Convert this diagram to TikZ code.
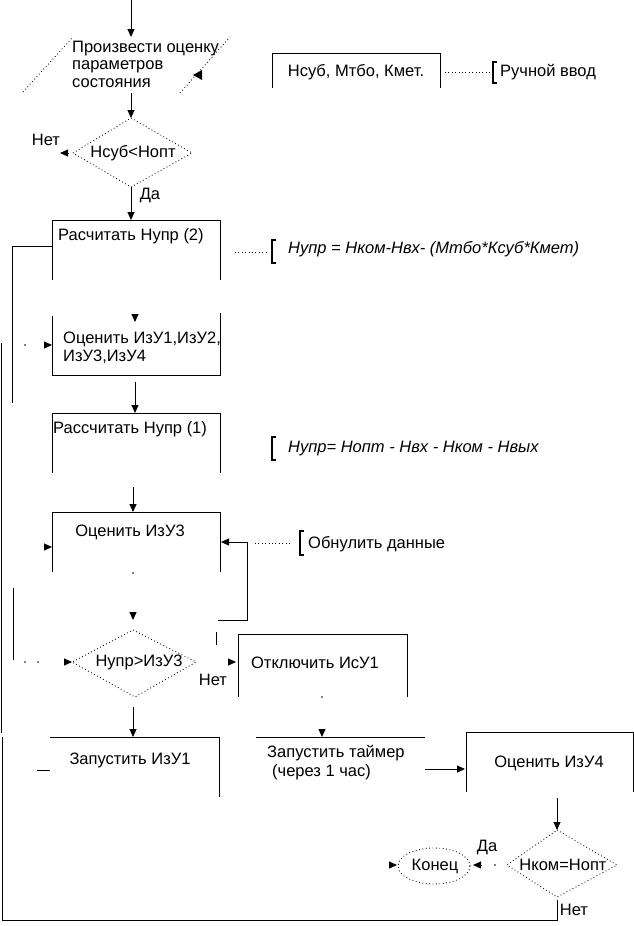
\documentclass[tikz,border=0pt]{standalone}
\usepackage{fontspec}
\setmainfont{Liberation Sans}
\usetikzlibrary{arrows.meta,shapes.geometric}
\begin{document}
\begin{tikzpicture}[x=1pt,y=-1pt,
  ln/.style={line width=1pt},
  dt/.style={line width=0.9pt,dash pattern=on 0.8pt off 2.6pt},
  arr/.style={line width=1pt,-{Triangle[length=8pt,width=7pt]}},
  brk/.style={line width=2.4pt},
  txt/.style={font=\fontsize{16.5}{17.5}\selectfont,inner sep=0pt},
  itx/.style={font=\fontsize{16.5}{17.5}\selectfont\itshape,inner sep=0pt,anchor=west},
  dotmark/.style={fill,circle,inner sep=0pt,minimum size=1.4pt}
]
\useasboundingbox (0,0) rectangle (634,926);

% ---------- top: input parallelogram ----------
\coordinate (s0) at (131,0);
\coordinate (p0) at (131,37);
\draw[arr] (s0) -- (p0);
\draw[dt] (23,92) -- (72,38);
\draw[dt] (180,93) -- (230,37);
\fill (193,75) -- (202,70) -- (202,80) -- cycle;
\node[txt,anchor=west,align=left] (par) at (72,64)
  {Произвести оценку\\параметров\\состояния};
\coordinate (p1) at (131,93);
\coordinate (d1t) at (131,118);
\draw[arr] (p1) -- (d1t);

% manual input box
\draw[ln] (272,88) -- (272,53) -- (440,53) -- (440,88);
\node[txt] (inp) at (356,72) {Нсуб, Мтбо, Кмет.};
\coordinate (i1) at (445,72);
\coordinate (i2) at (490,72);
\draw[dt] (i1) -- (i2);
\draw[brk] (497,62) -- (493,62) -- (493,83) -- (497,83);
\node[txt,anchor=west] (man) at (500,72) {Ручной ввод};

% ---------- decision 1 ----------
\draw[dt] (131,118) -- (192,153) -- (131,187) -- (73,153) -- cycle;
\node[txt] (d1) at (133,153) {Нсуб<Нопт};
\node[txt] (no1) at (46,140) {Нет};
\draw[arr] (68,153) -- (60,153);
\node[txt] (yes1) at (150,195) {Да};
\coordinate (d1b) at (131,187);
\coordinate (r2t) at (131,220);
\draw[arr] (d1b) -- (r2t);

% ---------- box: Расчитать Нупр (2) ----------
\draw[ln] (52,280) -- (52,220) -- (220,220) -- (220,280);
\node[txt,anchor=west] (r2) at (58,236) {Расчитать Нупр (2)};
\coordinate (r2l) at (52,246);
\draw[ln] (r2l) -- (12,246) -- (12,403);
\draw[dt] (235,252) -- (268,252);
\draw[brk] (276,240) -- (272,240) -- (272,263) -- (276,263);
\node[itx] (f1) at (288,249) {Нупр = Нком-Нвх- (Мтбо*Ксуб*Кмет)};

% ---------- box: Оценить ИзУ1... ----------
\draw[ln] (52,316) -- (52,375) -- (220,375) -- (220,313);
\draw[arr] (135,314) -- (135,322);
\fill (25,345) circle (0.8);
\draw[arr] (44,345) -- (52,345);
\node[txt,anchor=west,align=left] (e1) at (63,348) {Оценить ИзУ1,ИзУ2,\\ИзУ3,ИзУ4};
\coordinate (e1b) at (135,382);
\coordinate (r1t) at (135,413);
\draw[arr] (e1b) -- (r1t);

% ---------- box: Рассчитать Нупр (1) ----------
\draw[ln] (52,473) -- (52,413) -- (220,413) -- (220,473);
\node[txt,anchor=west] (r1) at (53,429) {Рассчитать Нупр (1)};
\draw[brk] (276,437) -- (272,437) -- (272,460) -- (276,460);
\node[itx] (f2) at (288,449) {Нупр= Нопт - Нвх - Нком - Нвых};

% ---------- box: Оценить ИзУ3 ----------
\coordinate (e3a) at (133,487);
\coordinate (e3t) at (133,512);
\draw[arr] (e3a) -- (e3t);
\draw[ln] (52,572) -- (52,512) -- (220,512) -- (220,572);
\node[txt] (e3) at (130,532) {Оценить ИзУ3};
\draw[arr] (44,547) -- (52,547);
\coordinate (e3r) at (221,542);
\draw[ln] (218,620) -- (247,620) -- (247,542);
\draw[arr] (247,542) -- (e3r);
\draw[dt] (255,543) -- (290,543);
\draw[brk] (304,531) -- (300,531) -- (300,555) -- (304,555);
\node[txt,anchor=west] (zero) at (308,544) {Обнулить данные};
\fill (133,573) circle (0.8);

% ---------- decision 2 ----------
\draw[ln] (13,588) -- (13,660);
\fill (25,662) circle (0.8);
\fill (38,662) circle (0.8);
\draw[arr] (64,662) -- (72,662);
\draw[arr] (133,612) -- (133,620);
\draw[dt] (133,630) -- (196,662) -- (135,697) -- (72,662) -- cycle;
\node[txt] (d2) at (139,662) {Нупр>ИзУ3};
\draw[ln] (216,632) -- (216,645);
\draw[arr] (228,662) -- (236,662);
\node[txt] (no2) at (213,680) {Нет};

% box: Отключить ИсУ1
\draw[ln] (238,697) -- (238,634) -- (407,634) -- (407,697);
\node[txt] (off) at (315,663) {Отключить ИсУ1};
\fill (322,697) circle (0.8);

% ---------- bottom row ----------
\coordinate (d2b) at (133,707);
\coordinate (z1t) at (133,737);
\draw[arr] (d2b) -- (z1t);
\draw[ln] (50,737) -- (219,737) -- (219,797);
\draw[ln] (37,770) -- (50,770);
\node[txt] (z1) at (130,760) {Запустить ИзУ1};

\draw[ln] (256,737) -- (425,737);
\draw[arr] (322,729) -- (322,737);
\node[txt,anchor=west] (tm1) at (267,753) {Запустить таймер};
\node[txt,anchor=west] (tm2) at (272,772) {(через 1 час)};
\coordinate (tmr) at (425,769);
\coordinate (e4l) at (465,769);
\draw[arr] (tmr) -- (e4l);

\draw[ln] (466,792) -- (466,732) -- (633,732) -- (633,792);
\node[txt] (e4) at (549,763) {Оценить ИзУ4};
\coordinate (e4b) at (557,798);
\coordinate (d3t) at (557,830);
\draw[arr] (e4b) -- (d3t);

% ---------- decision 3 ----------
\draw[dt] (557,830) -- (617,865) -- (557,897) -- (507,865) -- cycle;
\node[txt] (d3) at (563,865) {Нком=Нопт};
\node[txt] (yes3) at (487,847) {Да};
\fill (495,865) circle (0.8);
\draw[arr] (481,865) -- (473,865);
\node[draw,dt,ellipse,minimum width=72pt,minimum height=36pt,inner sep=0pt] (end) at (434,866) {};
\node[txt] (endt) at (435,866) {Конец};
\draw[arr] (389,865) -- (397,865);
\node[txt] (no3) at (574,910) {Нет};

% ---------- outer loop ----------
\draw[ln] (557,900) -- (557,920) -- (2,920) -- (2,737);
\draw[ln] (1,733) -- (1,343);
\end{tikzpicture}
\end{document}
